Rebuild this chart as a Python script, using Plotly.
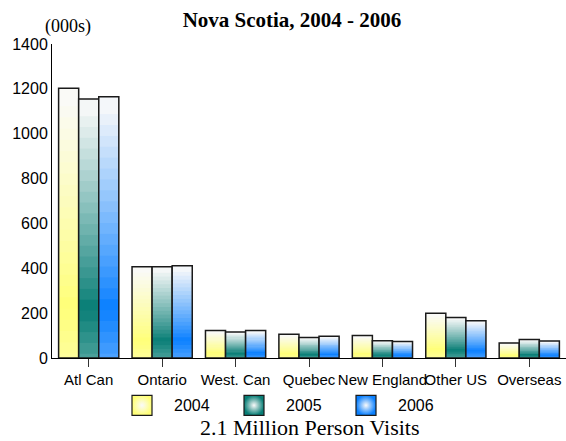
import plotly.graph_objects as go

categories = ["Atl Can", "Ontario", "West. Can", "Quebec", "New England", "Other US", "Overseas"]
years = ["2004", "2005", "2006"]
v2004 = [1203, 407, 123, 106, 100, 199, 67]
v2005 = [1155, 407, 116, 91, 77, 181, 82]
v2006 = [1165, 411, 123, 97, 74, 166, 76]
series = [v2004, v2005, v2006]
center_colors = [(255, 255, 120), (8, 126, 118), (10, 128, 255)]
y_ticks = [0, 200, 400, 600, 800, 1000, 1200, 1400]

N_BANDS = 24
CENTER = 0.22


def mix(c, t):
    # t=0 -> c, t=1 -> white
    return "rgb(%d,%d,%d)" % tuple(round(ci + (250 - ci) * t) for ci in c)


def band_color(c, f):
    if f >= CENTER:
        t = (f - CENTER) / (1 - CENTER)
        return mix(c, min(1.0, t ** 0.9))
    t = (CENTER - f) / CENTER
    return mix(c, 0.3 * t)


fig = go.Figure()
for yi, (name, vals, col) in enumerate(zip(years, series, center_colors)):
    for k in range(N_BANDS):
        f = (k + 0.5) / N_BANDS
        lo = max(0, k - 0.6) / N_BANDS
        hi = (k + 1) / N_BANDS
        fig.add_trace(go.Bar(
            x=categories,
            y=[v * (hi - lo) for v in vals],
            base=[v * lo for v in vals],
            marker=dict(color=band_color(col, f), line=dict(width=0)),
            offsetgroup=name, showlegend=False, hoverinfo="skip",
        ))
    fig.add_trace(go.Bar(
        x=categories, y=vals, name=name,
        marker=dict(color="rgba(0,0,0,0)", line=dict(color="#1a1a1a", width=1.5)),
        offsetgroup=name, showlegend=False,
    ))

# legend swatches
fig.add_trace(go.Scatter(
    x=[0, 1, 2], y=[0.43, 0.43, 0.43], xaxis="x2", yaxis="y2",
    mode="markers", showlegend=False, hoverinfo="skip",
    marker=dict(symbol="square", size=20,
                color=["rgb(%d,%d,%d)" % c for c in center_colors],
                gradient=dict(type="radial", color="rgb(250,250,250)"),
                line=dict(color="#1a1a1a", width=1.2)),
))
for i, name in enumerate(years):
    fig.add_annotation(x=i, y=0.43, xref="x2", yref="y2", text=name,
                       showarrow=False, xanchor="left", yanchor="middle", xshift=30,
                       font=dict(family="Liberation Sans", size=16, color="black"))

fig.add_annotation(x=(310 - 52) / 514, y=(441 - 427) / 397, xref="paper", yref="paper",
                   text="2.1 Million Person Visits", showarrow=False,
                   xanchor="center", yanchor="middle",
                   font=dict(family="Liberation Serif", size=22, color="black"))
fig.add_annotation(x=(68 - 52) / 514, y=1 + (44 - 27) / 397, xref="paper", yref="paper",
                   text="(000s)", showarrow=False, xanchor="center", yanchor="middle",
                   font=dict(family="Liberation Serif", size=18, color="black"))

fig.update_layout(
    width=566, height=441,
    margin=dict(l=52, r=0, t=44, b=0, autoexpand=False),
    paper_bgcolor="white", plot_bgcolor="white",
    barmode="group", bargap=0.18, bargroupgap=0,
    title=dict(text="<b>Nova Scotia, 2004 - 2006</b>", x=292 / 566, xanchor="center",
               y=1 - 20 / 441, yanchor="middle",
               font=dict(family="Liberation Serif", size=21, color="black")),
    xaxis=dict(showline=True, linecolor="black", linewidth=1, ticks="outside",
               ticklen=8, tickcolor="#333", showgrid=False, tickangle=0,
               automargin=False,
               tickfont=dict(family="Liberation Sans", size=15, color="black")),
    yaxis=dict(range=[0, 1400], tickvals=y_ticks, showline=True, linecolor="black",
               linewidth=1, showgrid=False, zeroline=False, ticks="",
               domain=[(441 - 358) / 397, 1], automargin=False,
               tickfont=dict(family="Liberation Sans", size=16, color="black")),
    xaxis2=dict(domain=[0, 1], range=[-90 / 112, 424 / 112], visible=False,
                anchor="y2", fixedrange=True),
    yaxis2=dict(domain=[0, (441 - 358) / 397], range=[0, 1], visible=False,
                anchor="x2", fixedrange=True),
)

fig.write_html("out.html")
